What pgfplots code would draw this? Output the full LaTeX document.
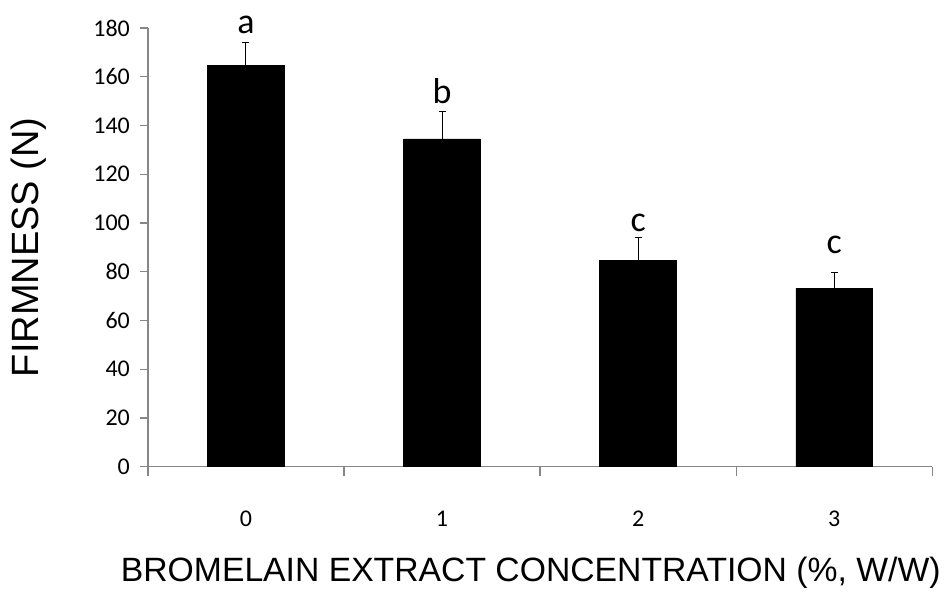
\documentclass[border=0pt]{standalone}
\usepackage{pgfplots}
\pgfplotsset{compat=1.18}
\usetikzlibrary{calc}
\usepackage{fontspec}
\setmainfont{Carlito}
\newfontfamily\arial{Liberation Sans}
\definecolor{axgray}{HTML}{868686}
\begin{document}
\begin{tikzpicture}
\begin{axis}[
  width=588.75pt, height=329.25pt, scale only axis,
  xmin=-0.5, xmax=3.5, ymin=0, ymax=180,
  axis x line*=bottom, axis y line*=left,
  axis line style={axgray, line width=1pt},
  every tick/.style={axgray, line width=1pt},
  tick align=outside,
  ytick={0,20,...,180},
  /pgf/number format/assume math mode=true,
  major tick length=6pt,
  minor tick length=6.75pt,
  xtick={0,1,2,3}, xticklabels={0,1,2,3},
  minor xtick={-0.5,0.5,1.5,2.5,3.5},
  major x tick style={draw=none},
  xticklabel style={font=\fontsize{18}{22}\selectfont, yshift=-24pt},
  yticklabel style={font=\fontsize{18}{22}\selectfont, xshift=-4pt},
  clip=false,
  xlabel={BROMELAIN EXTRACT CONCENTRATION (\%, W/W)},
  ylabel={FIRMNESS (N)},
  every axis x label/.style={at={(axis description cs:0.488,-0.2415)}, anchor=center, font=\arial\fontsize{25.3}{30}\selectfont},
  every axis y label/.style={at={(axis description cs:-0.1516,0.5)}, anchor=center, rotate=90, font=\arial\fontsize{28.5}{34}\selectfont},
]
\coordinate (O) at (rel axis cs:0,0);
\addplot[ybar, bar width=57.75pt, fill=black, draw=black, line width=0.5pt,
  error bars/.cd, y dir=plus, y explicit,
  error bar style={line width=0.8pt, black},
  error mark options={rotate=90, mark size=2.6pt, line width=0.8pt, black}]
  coordinates {
  (0,164.8) +- (0,9.2)
  (1,134.5) +- (0,11.2)
  (2,84.5) +- (0,9.7)
  (3,73.1) +- (0,6.7)
};
\addplot[draw=none, mark=none, nodes near coords, point meta=explicit symbolic,
  every node near coord/.style={anchor=center, inner sep=0pt, font=\fontsize{27}{32}\selectfont}]
  coordinates {
  (0,181.4) [a]
  (1,154.1) [b]
  (2,100.1) [c]
  (3,90.9) [c]
};
\end{axis}
\path[use as bounding box] ($(O)+(-111pt,-92.25pt)$) rectangle ++(708.75pt,442.5pt);
\end{tikzpicture}
\end{document}
